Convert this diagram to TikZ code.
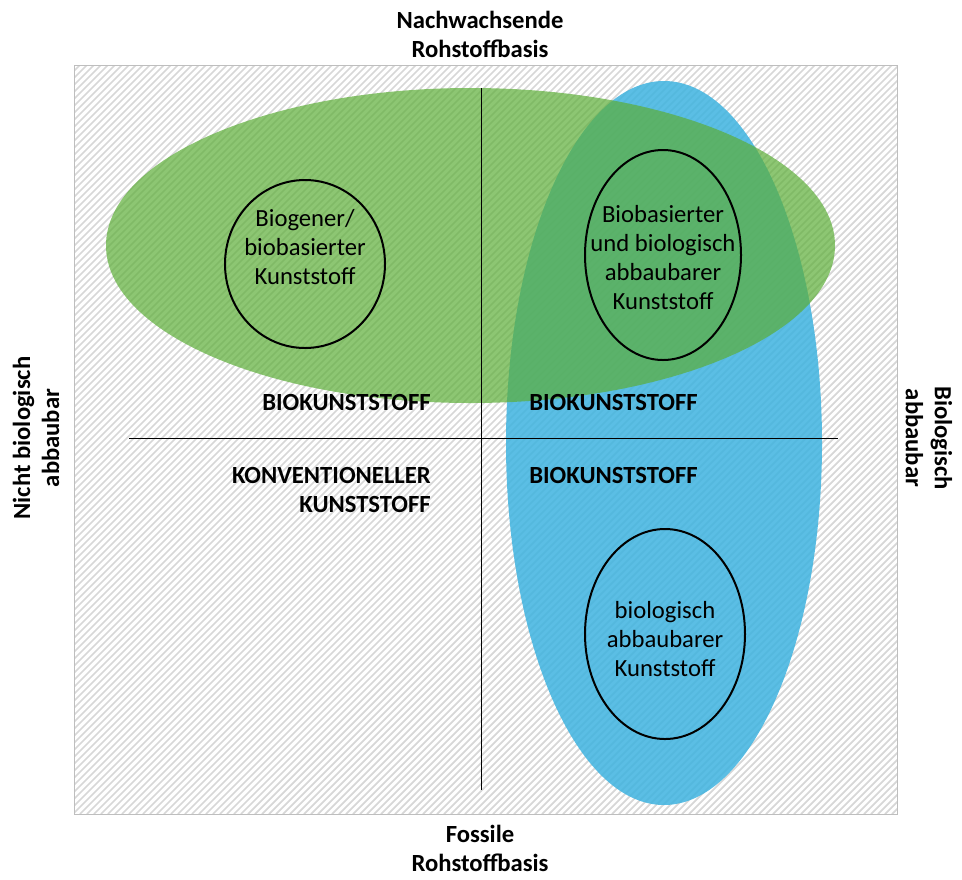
\documentclass[tikz,border=0pt]{standalone}
\usepackage{fontspec}
\setmainfont{Carlito}
\begin{document}
\begin{tikzpicture}[x=0.75pt,y=-0.75pt,
  txt/.style={font=\fontsize{18.5}{21.75}\selectfont, align=center, inner sep=0pt},
  btxt/.style={font=\fontsize{18.5}{21.75}\selectfont\bfseries, inner sep=0pt},
  inner/.style={draw=black, line width=1.5pt},
  axis/.style={draw=black, line width=0.75pt}]
\definecolor{hatch}{RGB}{215,215,215}
\definecolor{frameg}{RGB}{190,190,190}
\definecolor{bluef}{RGB}{62,179,224}
\definecolor{greenf}{RGB}{92,174,55}
\useasboundingbox (0,0) rectangle (962,879);
% frame with hatching
\begin{scope}
  \clip (74,65) rectangle (897,814);
  \foreach \i in {-760,-753,...,905} {
    \draw[hatch, line width=1.3pt] (\i,814) -- ++(760,-760);
  }
\end{scope}
\node[draw=frameg, line width=0.75pt, minimum width=823*0.75pt, minimum height=749*0.75pt, inner sep=0pt] (frame) at (485.5,439.5) {};
% big ellipses
\coordinate (blue) at (664,443);
\fill[bluef, opacity=0.85] (blue) ellipse [x radius=158, y radius=362];
\coordinate (green) at (470.5,245.5);
\fill[greenf, opacity=0.7] (green) ellipse [x radius=364.5, y radius=157.5];
% axes
\coordinate (vt) at (481,88);
\coordinate (vb) at (481,790);
\coordinate (hl) at (129,438);
\coordinate (hr) at (838,438);
\draw[axis] (vt) -- (vb);
\draw[axis] (hl) -- (hr);
% inner ellipses
\node[txt] (e1) at (305,247) {Biogener/\\biobasierter\\Kunststoff};
\draw[inner] (305,264) ellipse [x radius=80, y radius=84];
\node[txt] (e2) at (663,258) {Biobasierter\\und biologisch\\abbaubarer\\Kunststoff};
\draw[inner] (663,255) ellipse [x radius=78, y radius=105];
\node[txt] (e3) at (665,639) {biologisch\\abbaubarer\\Kunststoff};
\draw[inner] (665,634) ellipse [x radius=80, y radius=105];
% quadrant labels
\node[btxt, anchor=east] (l1) at (431,402) {BIOKUNSTSTOFF};
\node[btxt, anchor=west] (l2) at (529,402) {BIOKUNSTSTOFF};
\node[btxt, anchor=west] (l3) at (529,475) {BIOKUNSTSTOFF};
\node[btxt, align=right, anchor=east] (l4) at (431,490) {KONVENTIONELLER\\KUNSTSTOFF};
% outer labels
\node[btxt, align=center] (top) at (480,34) {Nachwachsende\\Rohstoffbasis};
\node[btxt, align=center] (bot) at (480,848) {Fossile\\Rohstoffbasis};
\node[btxt, align=center, rotate=90] (left) at (36,438) {Nicht biologisch\\abbaubar};
\node[btxt, align=center, rotate=-90] (right) at (929,438) {Biologisch\\abbaubar};
\end{tikzpicture}
\end{document}
